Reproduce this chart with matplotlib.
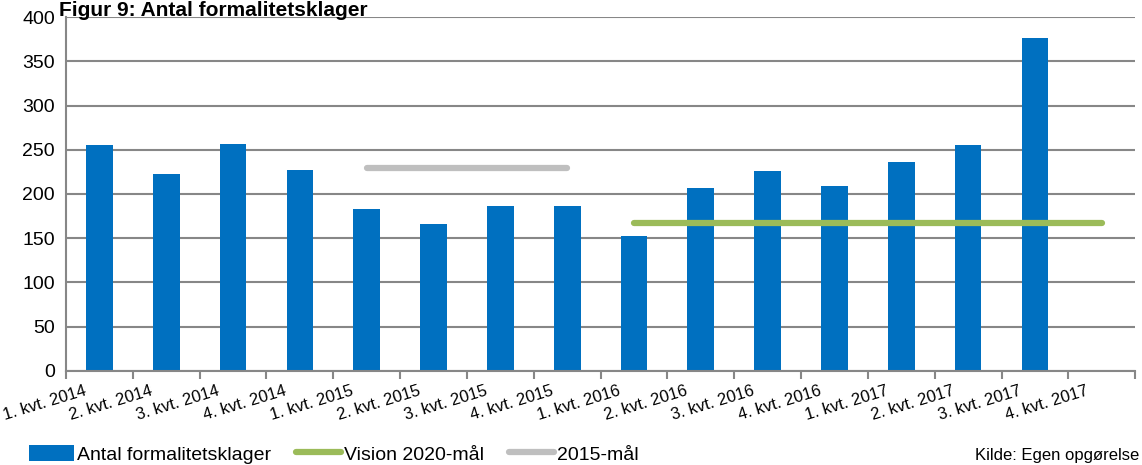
import numpy as np
import matplotlib.pyplot as plt
from matplotlib.transforms import ScaledTranslation

plt.rcParams['font.family'] = ['Liberation Sans', 'DejaVu Sans']

# Data
quarters = ['1. kvt. 2014', '2. kvt. 2014', '3. kvt. 2014', '4. kvt. 2014',
            '1. kvt. 2015', '2. kvt. 2015', '3. kvt. 2015', '4. kvt. 2015',
            '1. kvt. 2016', '2. kvt. 2016', '3. kvt. 2016', '4. kvt. 2016',
            '1. kvt. 2017', '2. kvt. 2017', '3. kvt. 2017', '4. kvt. 2017']
klager = [255, 223, 257, 227, 183, 166, 187, 187,
          153, 207, 226, 209, 236, 255, 376, np.nan]
vision_2020 = [np.nan] * 8 + [167] * 8
maal_2015 = [np.nan] * 4 + [229] * 4 + [np.nan] * 8

blue = '#0070C0'
green = '#9BBB59'
grey = '#BFBFBF'
gridc = '#878787'

fig = plt.figure(figsize=(11.42, 4.65), dpi=100)
ax = fig.add_axes([0.0578, 0.2022, 0.9362, 0.7612])

x = np.arange(len(quarters))
ax.bar(x, klager, width=0.4, color=blue, zorder=2, label='Antal formalitetsklager')
ax.plot(x, vision_2020, color=green, lw=4.5, solid_capstyle='round', zorder=3,
        label='Vision 2020-mål')
ax.plot(x, maal_2015, color=grey, lw=4.5, solid_capstyle='round', zorder=3,
        label='2015-mål')

ax.set_xlim(-0.5, len(quarters) - 0.5)
ax.set_ylim(0, 400)
ax.set_yticks(np.arange(0, 401, 50))
ax.yaxis.grid(True, color=gridc, lw=1.5, zorder=0)
ax.tick_params(axis='y', length=0, labelsize=14, pad=8)

# ticks on category boundaries, labels at centers
ax.set_xticks(np.arange(-0.5, len(quarters), 1.0))
ax.set_xticklabels([])
ax.tick_params(axis='x', which='major', length=6, color=gridc, width=1.5)
ax.set_xticks(x, minor=True)
ax.set_xticklabels(quarters, minor=True, rotation=17, ha='right',
                   va='top', rotation_mode='anchor', fontsize=12)
ax.tick_params(axis='x', which='minor', length=0, pad=9)
offset = ScaledTranslation(-0.16, 0, fig.dpi_scale_trans)
for lbl in ax.get_xticklabels(minor=True):
    lbl.set_transform(lbl.get_transform() + offset)

for s in ['top', 'right']:
    ax.spines[s].set_visible(False)
for s in ['left', 'bottom']:
    ax.spines[s].set_color(gridc)
    ax.spines[s].set_linewidth(1.5)

fig.text(0.052, 0.997, 'Figur 9: Antal formalitetsklager', fontsize=15,
         fontweight='bold', va='top', ha='left')

handles, labels = ax.get_legend_handles_labels()
order = [2, 0, 1]
fig.legend([handles[i] for i in order], [labels[i] for i in order],
           loc='lower left', bbox_to_anchor=(0.010, -0.035), ncol=3,
           frameon=False, fontsize=14, handlelength=2.3, handletextpad=0.15,
           columnspacing=1.3, handleheight=0.9)

fig.text(0.998, 0.005, 'Kilde: Egen opgørelse', fontsize=12, ha='right',
         va='bottom')

fig.savefig('out.png', dpi=100)
